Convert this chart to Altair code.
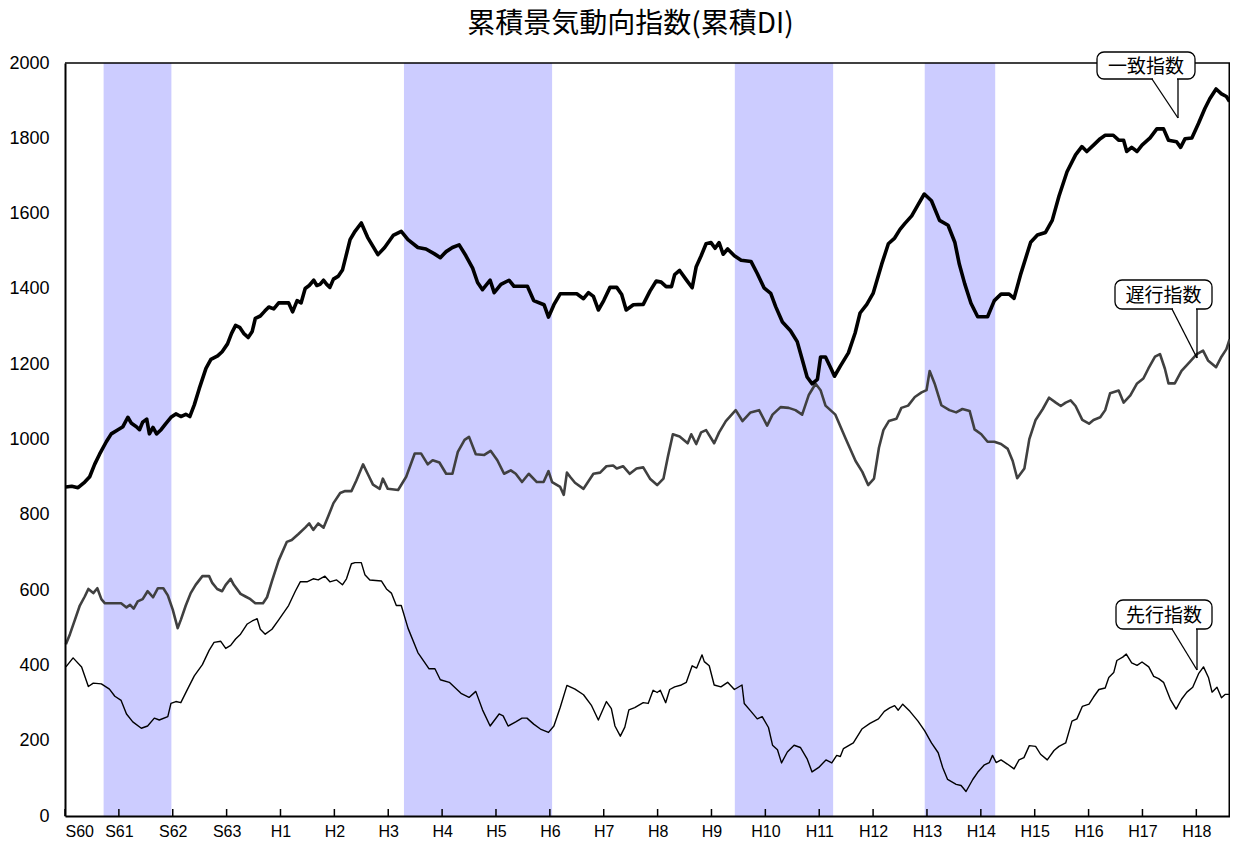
import json
import altair as alt
import pandas as pd

W, H = 1165, 753

x_labels = ['S60', 'S61', 'S62', 'S63', 'H1', 'H2', 'H3', 'H4', 'H5', 'H6', 'H7',
            'H8', 'H9', 'H10', 'H11', 'H12', 'H13', 'H14', 'H15', 'H16', 'H17', 'H18']
tick_months = [12 * i for i in range(len(x_labels))]
y_ticks = list(range(0, 2001, 200))

# recession shading (month index from S60/1)
band_start = [8.6, 75.5, 149.2, 191.5]
band_end = [23.7, 108.5, 171.1, 207.2]

# 一致指数 (coincident)
coin_m = [0.2, 1.5, 2.9, 4.4, 5.5, 6.6, 7.7, 9.2, 10.3, 11.8, 12.9, 14.0, 14.8, 15.9, 16.6, 17.3, 18.2, 18.8, 19.6,
          20.4, 21.4, 22.5, 23.6, 24.7, 25.8, 26.9, 27.8, 28.8, 29.9, 31.4, 32.5, 34.0, 35.0, 36.2, 37.1, 38.0, 38.9,
          39.8, 40.8, 41.7, 42.4, 43.5, 44.5, 45.4, 46.5, 47.6, 48.7, 49.8, 50.7, 51.7, 52.6, 53.5, 54.4, 55.4, 56.1,
          56.8, 57.6, 58.3, 59.0, 59.8, 60.9, 61.8, 62.5, 63.5, 64.6, 66.0, 67.4, 69.7, 71.2, 73.1, 74.9, 76.4, 78.6,
          80.4, 82.3, 83.6, 84.9, 86.3, 87.8, 89.3, 90.8, 91.9, 93.0, 94.7, 95.6, 97.1, 98.9, 100.0, 103.0, 104.4,
          106.7, 107.7, 108.9, 110.3, 114.0, 115.5, 116.6, 117.7, 118.8, 120.0, 121.4, 122.9, 124.0, 125.0, 126.6,
          128.8, 130.3, 131.7, 132.8, 133.9, 135.1, 135.8, 136.9, 138.4, 139.7, 140.6, 141.7, 142.8, 143.9, 144.8,
          145.7, 146.6, 147.6, 149.1, 150.6, 152.8, 154.2, 155.7, 157.2, 158.3, 159.8, 161.6, 163.1, 164.2, 165.3,
          166.4, 167.6, 168.3, 169.4, 170.6, 171.4, 172.7, 174.5, 176.0, 177.1, 178.6, 180.0, 181.9, 183.4, 184.8,
          186.0, 187.1, 188.6, 190.0, 191.4, 193.0, 194.8, 196.7, 198.2, 199.2, 200.4, 201.8, 203.3, 205.5, 207.0,
          208.5, 210.3, 211.4, 212.9, 215.1, 216.6, 218.4, 219.9, 221.4, 223.2, 225.1, 226.5, 227.6, 229.1, 230.6,
          231.7, 233.5, 234.7, 235.8, 236.5, 237.6, 238.8, 239.9, 241.7, 243.2, 244.7, 245.8, 247.6, 248.5, 249.5,
          251.0, 252.5, 253.9, 255.0, 256.4, 257.6, 258.7, 259.4]
coin_v = [874, 876, 872, 887, 901, 934, 961, 994, 1015, 1026, 1034, 1059, 1043, 1034, 1026, 1046, 1054, 1015, 1032,
          1015, 1026, 1043, 1059, 1068, 1061, 1067, 1061, 1092, 1135, 1189, 1213, 1222, 1233, 1254, 1282, 1303, 1298,
          1282, 1271, 1287, 1322, 1328, 1341, 1352, 1347, 1363, 1363, 1363, 1339, 1369, 1363, 1401, 1409, 1423, 1409,
          1412, 1423, 1412, 1404, 1426, 1434, 1450, 1483, 1531, 1553, 1575, 1537, 1491, 1510, 1542, 1553, 1531, 1510,
          1506, 1493, 1483, 1499, 1510, 1517, 1488, 1455, 1417, 1398, 1423, 1390, 1412, 1423, 1407, 1407, 1369,
          1358, 1325, 1358, 1387, 1387, 1374, 1390, 1380, 1344, 1369, 1404, 1404, 1385, 1344, 1358,
          1359, 1394, 1421, 1418, 1406, 1406, 1438, 1449, 1424, 1403, 1459, 1488, 1520, 1523, 1508,
          1523, 1492, 1506, 1488, 1476, 1473, 1441, 1403, 1388, 1353, 1312, 1289, 1260, 1213, 1166,
          1148, 1160, 1219, 1219, 1189, 1168, 1195, 1230, 1283, 1336, 1359, 1388, 1465, 1520, 1535,
          1558, 1574, 1594, 1623, 1652, 1634, 1582, 1569, 1524, 1466, 1414, 1362, 1326, 1326, 1369,
          1386, 1386, 1375, 1440, 1524, 1543, 1550, 1582, 1646, 1711, 1756, 1778, 1765, 1782, 1799,
          1808, 1808, 1795, 1795, 1765, 1776, 1765, 1782, 1801, 1825, 1825, 1795, 1791, 1776, 1799,
          1801, 1840, 1879, 1905, 1931, 1918, 1911, 1898]

# 遅行指数 (lagging)
lag_m = [0.2, 1.1, 2.2, 3.3, 4.4, 5.2, 6.3, 7.2, 8.1, 8.9, 10.7, 12.5, 13.7, 14.5, 15.3, 16.2, 17.3, 18.4, 19.6,
         20.7, 21.9, 22.9, 24.0, 25.1, 25.8, 26.9, 28.0, 29.1, 30.6, 32.1, 32.8, 33.9, 35.0, 35.8, 36.9, 37.6, 39.1,
         40.2, 41.3, 42.4, 44.1, 45.0, 46.1, 47.6, 49.4, 50.5, 52.0, 53.5, 54.4, 55.3, 56.4, 57.6, 58.7, 59.8, 61.3,
         62.4, 63.8, 64.9, 66.4, 67.5, 68.6, 70.1, 70.8, 71.9, 74.2, 76.0, 77.9, 79.3, 80.8, 81.9, 83.4, 84.9, 86.3,
         87.5, 89.0, 90.0, 91.5, 93.4, 94.8, 96.3, 97.8, 99.3, 100.4, 101.8, 103.3, 105.1, 106.6, 107.7, 108.5,
         110.3, 111.1, 111.8, 112.5, 113.6, 115.5, 117.7, 119.2, 120.6, 122.1, 122.9, 124.3, 125.8, 127.3, 128.8,
         130.3, 131.9, 133.3, 134.3, 135.4, 136.9, 138.7, 139.5, 140.6, 141.7, 142.8, 144.6, 145.7, 147.2, 149.4,
         150.9, 152.7, 154.6, 156.4, 157.6, 159.4, 161.2, 162.7, 164.2, 165.7, 167.2, 168.3, 169.4, 171.6, 173.9,
         176.1, 177.6, 178.9, 180.2, 181.3, 182.3, 183.5, 185.2, 186.3, 187.8, 189.3, 190.8, 191.9, 192.6, 193.7,
         195.2, 197.0, 198.5, 199.9, 201.5, 202.6, 204.1, 205.5, 207.0, 208.5, 210.0, 211.1, 212.1, 213.7, 214.8,
         216.2, 217.8, 219.2, 220.7, 221.8, 222.9, 224.0, 225.1, 226.6, 228.1, 229.1, 230.6, 231.7, 232.8, 234.7,
         235.8, 237.3, 238.8, 240.2, 241.3, 242.8, 243.9, 245.0, 245.8, 247.2, 248.7, 250.6, 252.1, 253.5, 254.6,
         256.4, 257.6, 258.7, 259.4]
lag_v = [456, 483, 521, 559, 583, 603, 592, 605, 576, 565, 565, 565, 554, 561, 551, 570, 576, 597, 581,
         605, 605, 586, 548, 499, 521, 559, 592, 614, 637, 637, 619, 603, 597, 614, 630, 614, 590,
         583, 576, 565, 565, 581, 624, 679, 728, 733, 749, 766, 777, 760, 777, 766, 798, 831, 858,
         863, 863, 891, 934, 907, 880, 869, 896, 869, 866, 901, 963, 963, 934, 945, 939, 909, 909,
         967, 999, 1007, 961, 959, 970, 945, 909, 918, 909, 887, 909, 887, 887, 916, 887,
         874, 853, 912, 901, 885, 869, 909, 912, 929, 931, 923, 929, 909, 923, 926,
         896, 879, 896, 955, 1014, 1008, 990, 1014, 988, 1019, 1025, 990, 1019, 1049, 1078,
         1049, 1072, 1078, 1037, 1066, 1086, 1084, 1078, 1066, 1119, 1148, 1131, 1090, 1066, 1002,
         943, 914, 879, 896, 978, 1025, 1049, 1055, 1084, 1090, 1113, 1125, 1131, 1182, 1149,
         1091, 1078, 1072, 1081, 1076, 1027, 1014, 994, 994, 988, 975, 943, 897, 923, 1001,
         1052, 1081, 1111, 1098, 1089, 1098, 1104, 1089, 1052, 1042, 1052, 1059, 1078, 1123, 1130,
         1098, 1117, 1149, 1162, 1188, 1220, 1227, 1188, 1149, 1149, 1182, 1207, 1227, 1236, 1210,
         1192, 1220, 1240, 1266]

# 先行指数 (leading)
lead_m = [0.2, 1.8, 3.7, 5.2, 6.3, 8.1, 9.9, 11.1, 12.5, 13.7, 15.1, 17.0, 18.4, 19.9, 21.0, 22.9, 23.6, 24.7, 25.8,
          27.3, 28.8, 30.6, 32.1, 33.2, 34.7, 35.8, 36.9, 38.0, 39.1, 40.6, 41.7, 42.8, 43.5, 44.6, 46.1, 47.6, 49.8,
          51.3, 52.4, 53.9, 55.3, 56.4, 57.9, 59.0, 60.5, 61.8, 62.7, 63.8, 64.6, 66.0, 66.8, 67.9, 70.5, 71.6, 72.7,
          73.8, 74.9, 76.4, 78.6, 81.1, 82.4, 83.6, 85.6, 88.2, 90.0, 91.5, 93.0, 94.7, 96.7, 97.6, 98.7, 100.4,
          101.8, 102.9, 104.4, 105.9, 107.7, 108.9, 110.3, 111.8, 113.6, 115.5, 117.3, 118.8, 120.6, 121.7, 122.5,
          123.7, 124.7, 125.6, 126.9, 128.8, 129.9, 131.0, 131.9, 132.6, 133.8, 134.7, 135.8, 137.3, 138.4, 139.7,
          140.7, 141.9, 142.4, 143.5, 144.6, 146.1, 147.6, 149.1, 150.8, 151.3, 152.8, 154.2, 155.3, 156.7, 157.6,
          158.7, 159.6, 160.9, 162.4, 163.8, 165.3, 166.4, 167.9, 169.5, 170.8, 171.9, 172.7, 173.4, 175.6, 177.5,
          179.3, 181.2, 182.5, 183.7, 184.8, 185.6, 186.6, 188.2, 190.0, 191.5, 193.0, 194.5, 195.5, 196.6, 198.5,
          199.6, 200.7, 202.2, 203.3, 204.8, 205.9, 206.6, 207.4, 208.5, 209.9, 211.4, 212.5, 213.6, 214.8, 216.2,
          217.3, 218.8, 220.3, 221.4, 222.9, 224.3, 225.4, 226.6, 228.1, 229.1, 230.3, 231.7, 232.5, 233.6, 234.3,
          235.6, 236.4, 237.6, 238.8, 239.9, 241.4, 242.5, 243.6, 244.7, 246.2, 247.5, 248.7, 249.9, 251.2, 252.5,
          253.6, 254.7, 255.5, 256.6, 257.6, 258.4, 259.4]
lead_v = [396, 420, 396, 344, 353, 351, 337, 318, 307, 271, 250, 233, 239, 260, 255, 264, 299, 304, 301,
          337, 372, 402, 440, 461, 464, 445, 453, 470, 483, 510, 518, 524, 496, 483, 496, 521, 559,
          597, 622, 622, 630, 627, 637, 622, 627, 614, 630, 670, 673, 673, 641, 627, 624, 603, 592,
          559, 559, 499, 434, 391, 391, 362, 355, 326, 315, 331, 282, 239, 271, 266, 239, 250,
          260, 260, 244, 231, 222, 239, 288, 347, 337, 322, 293, 255, 304, 285, 239,
          212, 236, 282, 288, 301, 299, 334, 328, 334, 301, 336, 343, 348, 355, 399,
          393, 428, 410, 399, 348, 343, 355, 336, 348, 299, 278, 258, 264, 235, 188,
          176, 141, 170, 188, 182, 152, 117, 129, 149, 141, 161, 158, 179, 194, 231,
          246, 258, 278, 287, 293, 281, 297, 278, 252, 226, 194, 168, 129, 97, 84,
          81, 65, 97, 116, 136, 142, 161, 142, 149, 138, 125, 149, 155, 187, 185,
          164, 149, 174, 185, 194, 252, 258, 291, 297, 316, 336, 340, 368, 381, 413,
          422, 430, 407, 400, 409, 396, 371, 365, 355, 310, 284, 310, 329, 342, 378,
          396, 368, 329, 342, 314, 323, 323]

callout_names = ['一致指数', '遅行指数', '先行指数']

SANS = 'Liberation Sans, Arial, Helvetica, sans-serif'
CJK = 'Noto Sans CJK JP, sans-serif'

xscale = alt.Scale(domain=[0, 259.5], nice=False, zero=False)
yscale = alt.Scale(domain=[0, 2000], nice=False)

x_axis = alt.Axis(values=tick_months, labelExpr=json.dumps(x_labels) + "[round(datum.value / 12)]",
                  ticks=False, grid=False, domainColor='black', domainWidth=2,
                  labelFont=SANS, labelFontSize=16, labelColor='black',
                  labelPadding=7, labelFlush=True, labelOverlap=False, title=None, zindex=1)
y_axis = alt.Axis(values=y_ticks, format='d', ticks=False, grid=False, domainColor='black', domainWidth=2,
                  labelFont=SANS, labelFontSize=18, labelColor='black',
                  labelPadding=16, title=None, zindex=1)

one = pd.DataFrame({'k': [0]})

bands = alt.Chart(pd.DataFrame({'s': band_start, 'e': band_end})).mark_rect(color='#ccccff').encode(
    x=alt.X('s:Q', scale=xscale, axis=x_axis), x2='e:Q', y=alt.value(0), y2=alt.value(H))

ticks = alt.Chart(pd.DataFrame({'m': tick_months})).mark_rule(color='black', strokeWidth=1.5).encode(
    x=alt.X('m:Q', scale=xscale, axis=x_axis), y=alt.value(H), y2=alt.value(H - 7))

frame_top = alt.Chart(one).mark_rule(color='black', strokeWidth=1.5).encode(
    x=alt.value(0), x2=alt.value(W), y=alt.value(0))
frame_right = alt.Chart(one).mark_rule(color='black', strokeWidth=1.5).encode(
    x=alt.value(W - 0.75), y=alt.value(0), y2=alt.value(H))


def line(ms, vs, color, width):
    df = pd.DataFrame({'m': ms, 'v': vs})
    return alt.Chart(df).mark_line(color=color, strokeWidth=width, strokeJoin='round').encode(
        x=alt.X('m:Q', scale=xscale, axis=x_axis),
        y=alt.Y('v:Q', scale=yscale, axis=y_axis),
        order='m:Q')


lag_line = line(lag_m, lag_v, '#404040', 2.6)
lead_line = line(lead_m, lead_v, 'black', 1.4)
coin_line = line(coin_m, coin_v, 'black', 3.6)


def callout(name, x0, x1, y0, y1, base_l, tip_x, tip_y):
    box = alt.Chart(one).mark_rect(fill='white', stroke='black', strokeWidth=1.3, cornerRadius=7).encode(
        x=alt.value(x0), x2=alt.value(x1), y=alt.value(y0), y2=alt.value(y1))
    gap = alt.Chart(one).mark_rule(color='white', strokeWidth=3).encode(
        x=alt.value(base_l + 1), x2=alt.value(tip_x - 1), y=alt.value(y1))
    left = alt.Chart(one).mark_rule(color='black', strokeWidth=1.3).encode(
        x=alt.value(base_l), x2=alt.value(tip_x), y=alt.value(y1), y2=alt.value(tip_y))
    right = alt.Chart(one).mark_rule(color='black', strokeWidth=1.3).encode(
        x=alt.value(tip_x), y=alt.value(y1), y2=alt.value(tip_y))
    txt = alt.Chart(one).mark_text(font=CJK, fontSize=19, color='black',
                                   align='center', baseline='middle').encode(
        x=alt.value((x0 + x1) / 2), y=alt.value((y0 + y1) / 2 + 1), text=alt.value(name))
    return [box, gap, left, right, txt]


callouts = (callout(callout_names[0], 1032, 1130, -11, 16, 1087, 1113, 55)
            + callout(callout_names[1], 1050, 1147, 217, 246, 1107, 1132, 295)
            + callout(callout_names[2], 1051, 1147, 537, 566, 1107, 1132, 607))

chart = alt.layer(bands, frame_top, frame_right, ticks, lag_line, lead_line, coin_line, *callouts).properties(
    width=W, height=H,
    title=alt.TitleParams('累積景気動向指数(累積DI)', font=CJK, fontSize=28,
                          fontWeight='normal', anchor='middle', dx=-17, offset=12, color='black'),
    padding={'left': 57, 'top': 55, 'right': 0, 'bottom': 24},
    autosize=alt.AutoSizeParams(type='none'),
).configure_view(stroke=None)

chart.save("out.html", embed_options={"renderer": "svg", "actions": False})
